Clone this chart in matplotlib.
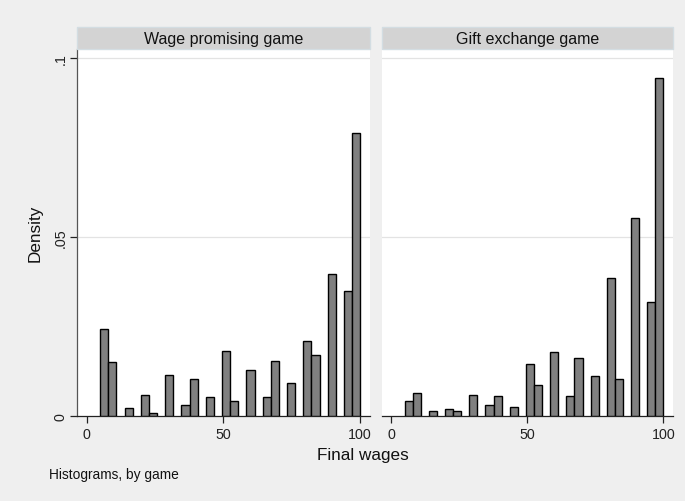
import numpy as np
import matplotlib
matplotlib.use("Agg")
import matplotlib.pyplot as plt
from matplotlib.patches import Rectangle

plt.rcParams['font.family'] = ['Liberation Sans', 'DejaVu Sans']

# histogram bins shared by both panels: 32 bins from 5 to 100
bin_start = 5.0
bin_end = 100.0
n_bins = 32

panel_titles = ["Wage promising game", "Gift exchange game"]

# densities of the non-empty bins (bin index -> density)
wage_bins = [0, 1, 3, 5, 6, 8, 10, 11, 13, 15, 16, 18, 20, 21, 23, 25, 26, 28, 30, 31]
wage_density = [0.0243, 0.0150, 0.0021, 0.0060, 0.00075, 0.0114, 0.0032, 0.0103,
                0.0053, 0.0183, 0.0043, 0.0129, 0.0053, 0.0154, 0.0093, 0.0211,
                0.0171, 0.0397, 0.0350, 0.0791]

gift_bins = [0, 1, 3, 5, 6, 8, 10, 11, 13, 15, 16, 18, 20, 21, 23, 25, 26, 28, 30, 31]
gift_density = [0.0041, 0.0063, 0.0015, 0.0019, 0.0015, 0.0060, 0.0030, 0.0056,
                0.0026, 0.0145, 0.0086, 0.0178, 0.0056, 0.0163, 0.0111, 0.0386,
                0.0104, 0.0553, 0.0320, 0.0946]

y_ticks = [0, 0.05, 0.1]
y_ticklabels = ["0", ".05", ".1"]
x_ticks = [0, 50, 100]

bg = "#efefef"
fig = plt.figure(figsize=(6.85, 5.02), dpi=100, facecolor=bg)

width = (bin_end - bin_start) / n_bins
edges = bin_start + width * np.arange(n_bins)

ax_l = fig.add_axes([0.1128, 0.1693, 0.4273, 0.7311])
ax_r = fig.add_axes([0.5572, 0.1693, 0.4257, 0.7311])

panels = [(ax_l, wage_bins, wage_density), (ax_r, gift_bins, gift_density)]
for i, (ax, bins, dens) in enumerate(panels):
    ax.set_facecolor("white")
    ax.bar(edges[bins], dens, width=width, align="edge", color="#808080",
           edgecolor="black", linewidth=1.0, zorder=3)
    ax.set_xlim(-3.4, 103.6)
    ax.set_ylim(0, 0.1026)
    for y in y_ticks[1:]:
        ax.axhline(y, color="#e3e3e3", linewidth=0.9, zorder=1)
    for s in ["top", "right"]:
        ax.spines[s].set_visible(False)
    ax.spines["bottom"].set_color("#222222")
    ax.spines["bottom"].set_linewidth(0.9)
    ax.set_xticks(x_ticks)
    ax.set_xticklabels([str(t) for t in x_ticks])
    ax.tick_params(axis="x", length=5, width=0.9, color="#222222", labelsize=10.3,
                   pad=3, labelcolor="#222222")

    # panel header strip
    ax.add_patch(Rectangle((0, 1.0), 1, 0.0591, transform=ax.transAxes,
                           facecolor="#d3d3d3", edgecolor="#d3dde2",
                           linewidth=1.0, clip_on=False, zorder=5))
    ax.text(0.5, 1.0296, panel_titles[i], transform=ax.transAxes,
            ha="center", va="center", fontsize=11.5, color="#111111", zorder=6)

    if i == 0:
        ax.spines["left"].set_color("#555555")
        ax.spines["left"].set_linewidth(0.9)
        ax.set_yticks(y_ticks)
        ax.set_yticklabels(y_ticklabels, rotation=90, va="center")
        ax.tick_params(axis="y", length=5, width=0.9, color="#222222",
                       labelsize=10.3, pad=2, labelcolor="#222222")
        ax.set_ylabel("Density", fontsize=12.3, labelpad=8, color="#111111")
    else:
        ax.spines["left"].set_visible(False)
        ax.set_yticks([])

fig.text(362.5 / 685, 1 - 456 / 502, "Final wages", ha="center", va="center",
         fontsize=12.3, color="#111111")
fig.text(49 / 685, 1 - 475.5 / 502, "Histograms, by game", ha="left", va="center",
         fontsize=9.9, color="#111111")

fig.savefig("out.png", dpi=100, facecolor=bg)
